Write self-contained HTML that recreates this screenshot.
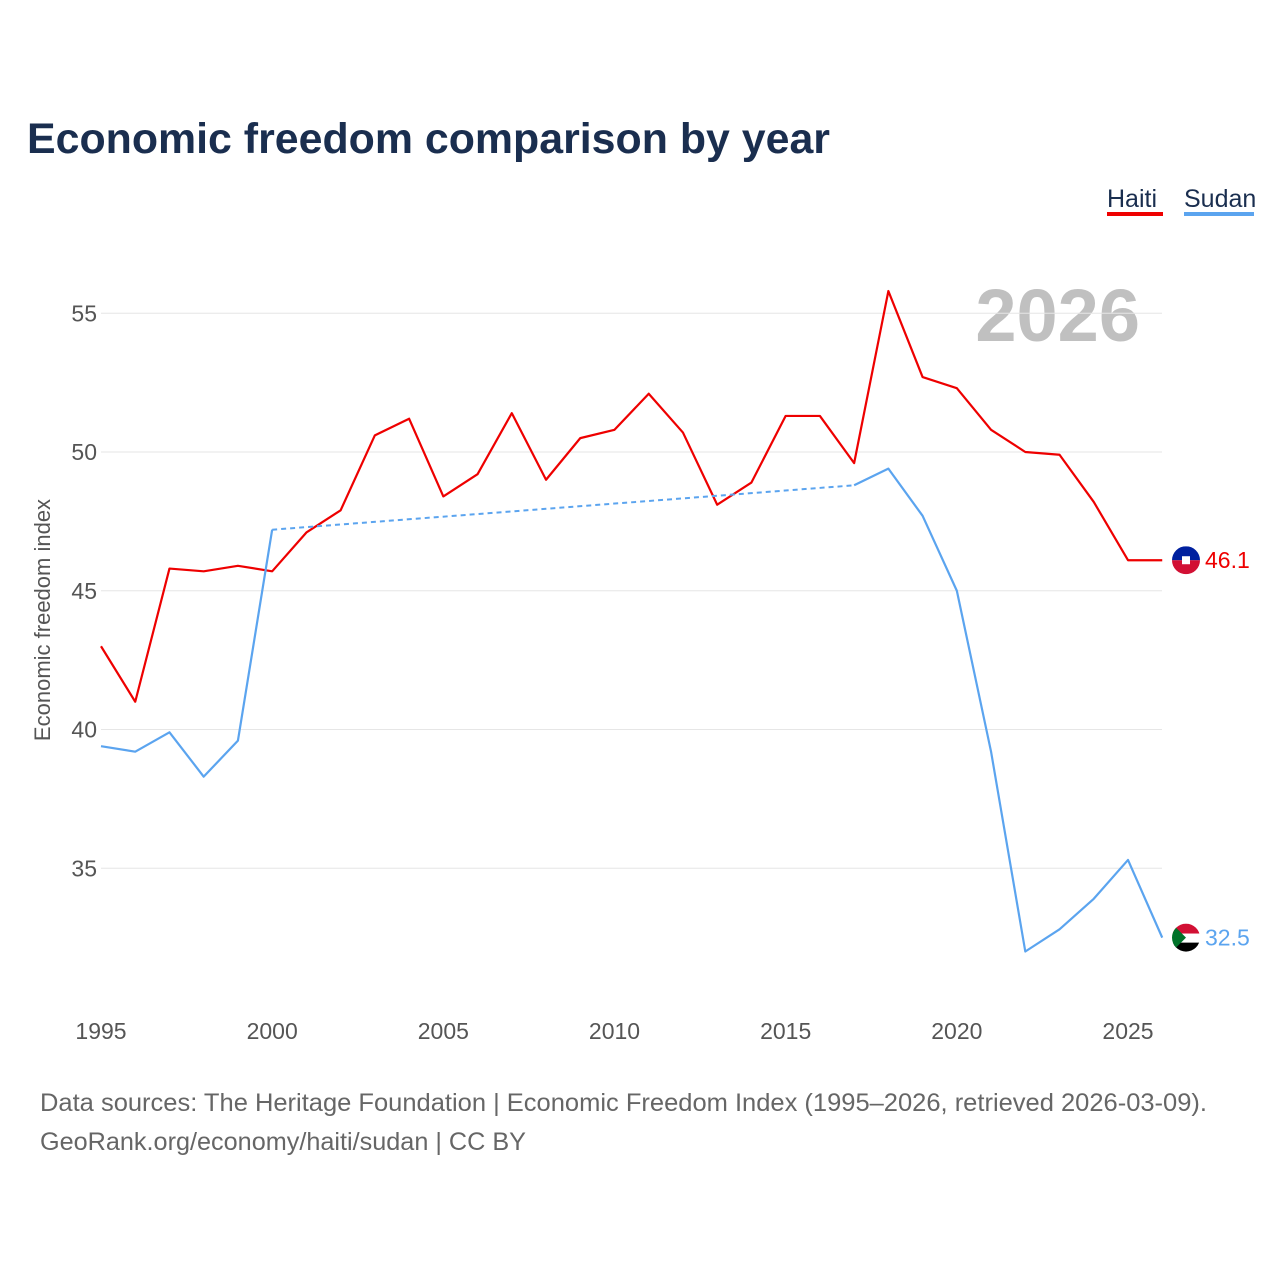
<!DOCTYPE html>
<html><head><meta charset="utf-8"><style>
body{margin:0;background:#fff;font-family:"Liberation Sans",sans-serif}
svg text{font-family:"Liberation Sans",sans-serif}
</style></head><body>
<svg width="1280" height="1280" viewBox="0 0 1280 1280">
<text x="27" y="153" font-size="43" font-weight="bold" fill="#1a2e4f" textLength="803" lengthAdjust="spacingAndGlyphs">Economic freedom comparison by year</text>
<g>
<text x="1107" y="207" font-size="25" fill="#1a2e4f">Haiti</text>
<rect x="1107" y="212" width="56" height="4" fill="#ee0000"/>
<text x="1184" y="207" font-size="25" fill="#1a2e4f">Sudan</text>
<rect x="1184" y="212" width="70" height="4" fill="#5ba4ef"/>
</g>
<text x="1140" y="341" font-size="74" font-weight="bold" fill="#c0c0c0" text-anchor="end">2026</text>
<text transform="translate(50,620) rotate(-90)" font-size="22" fill="#555" text-anchor="middle">Economic freedom index</text>
<g id="grid"></g><g id="lines"></g><g id="ends"></g>
<text x="40" y="1111" font-size="25" fill="#666" textLength="1167" lengthAdjust="spacingAndGlyphs">Data sources: The Heritage Foundation | Economic Freedom Index (1995–2026, retrieved 2026-03-09).</text>
<text x="40" y="1150" font-size="25" fill="#666" textLength="486" lengthAdjust="spacingAndGlyphs">GeoRank.org/economy/haiti/sudan | CC BY</text>
</svg>
<script>
const years=[1995,1996,1997,1998,1999,2000,2001,2002,2003,2004,2005,2006,2007,2008,2009,2010,2011,2012,2013,2014,2015,2016,2017,2018,2019,2020,2021,2022,2023,2024,2025,2026];
const haiti=[43.0,41.0,45.8,45.7,45.9,45.7,47.1,47.9,50.6,51.2,48.4,49.2,51.4,49.0,50.5,50.8,52.1,50.7,48.1,48.9,51.3,51.3,49.6,55.8,52.7,52.3,50.8,50.0,49.9,48.2,46.1,46.1];
const sudan=[39.4,39.2,39.9,38.3,39.6,47.2,null,null,null,null,null,null,null,null,null,null,null,null,null,null,null,null,48.8,49.4,47.7,45.0,39.2,32.0,32.8,33.9,35.3,32.5];
const yTicks=[35,40,45,50,55];
const xTicks=[1995,2000,2005,2010,2015,2020,2025];
const NS='http://www.w3.org/2000/svg';
const X=y=>101+(y-1995)*(1128-101)/30;
const Y=v=>452-(v-50)*27.75;
function mk(tag,attrs,parent){const e=document.createElementNS(NS,tag);for(const k in attrs)e.setAttribute(k,attrs[k]);parent.appendChild(e);return e;}
const grid=document.getElementById('grid'),lines=document.getElementById('lines'),ends=document.getElementById('ends');
yTicks.forEach(v=>{
 const l=mk('line',{x1:101,x2:1162,y1:Y(v),y2:Y(v),stroke:'#e6e6e6','stroke-width':1},grid);
 
 
 const t=mk('text',{x:97,y:Y(v)+8,'font-size':23,fill:'#555','text-anchor':'end'},grid);
 t.textContent=v;
 
 
});
xTicks.forEach(v=>{
 const t=mk('text',{x:X(v),y:1039,'font-size':23,fill:'#555','text-anchor':'middle'},grid);
 t.textContent=v;
 
 
});
function draw(vals,color,name){
 let segs=[],cur=[];
 vals.forEach((v,i)=>{if(v==null){if(cur.length)segs.push(cur);cur=[];}else cur.push([X(years[i]),Y(v)]);});
 if(cur.length)segs.push(cur);
 for(let s=0;s<segs.length;s++){
  const p=mk('polyline',{points:segs[s].map(a=>a.join(',')).join(' '),fill:'none',stroke:color,'stroke-width':2.2,'stroke-linejoin':'round'},lines);
  
  
  if(s<segs.length-1){
   const a=segs[s][segs[s].length-1],b=segs[s+1][0];
   const d=mk('line',{x1:a[0],y1:a[1],x2:b[0],y2:b[1],stroke:color,'stroke-width':2,'stroke-dasharray':'5,4'},lines);
   
   
  }
 }
}
draw(haiti,'#ee0000','haiti');
draw(sudan,'#5ba4ef','sudan');
function endLabel(v,color,name,flag){
 const cy=Y(v),cx=1186;
 const g=mk('g',{},ends);
 
 
 const cp=mk('clipPath',{id:'c'+name},g);
 mk('circle',{cx:cx,cy:cy,r:14},cp);
 const inner=mk('g',{'clip-path':'url(#c'+name+')'},g);
 if(flag==='haiti'){
  mk('rect',{x:cx-14,y:cy-14,width:28,height:14,fill:'#00209f'},inner);
  mk('rect',{x:cx-14,y:cy,width:28,height:14,fill:'#d21034'},inner);
  mk('rect',{x:cx-4,y:cy-4,width:8,height:8,fill:'#fff'},inner);
 }else{
  mk('rect',{x:cx-14,y:cy-14,width:28,height:10,fill:'#d21034'},inner);
  mk('rect',{x:cx-14,y:cy-4,width:28,height:9,fill:'#fff'},inner);
  mk('rect',{x:cx-14,y:cy+5,width:28,height:10,fill:'#000'},inner);
  mk('polygon',{points:(cx-14)+','+(cy-14)+' '+(cx)+','+cy+' '+(cx-14)+','+(cy+14),fill:'#007229'},inner);
 }
 const t=mk('text',{x:1205,y:cy+8,'font-size':23,fill:color},ends);
 t.textContent=v.toFixed(1);
 
 
}
endLabel(haiti[haiti.length-1],'#ee0000','haiti','haiti');
endLabel(sudan[sudan.length-1],'#5ba4ef','sudan','sudan');
</script>
</body></html>
